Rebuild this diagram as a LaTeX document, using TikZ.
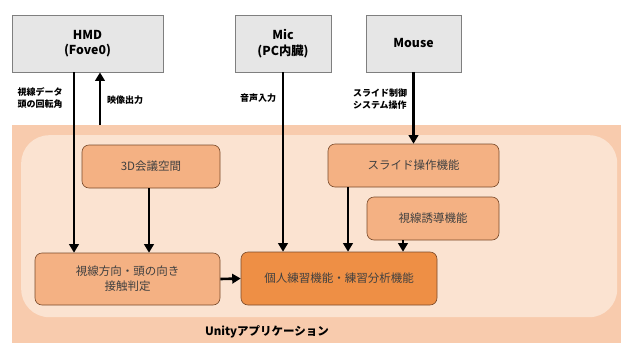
\documentclass[tikz,border=0pt]{standalone}
\usepackage{fontspec}
\setmainfont{Noto Sans CJK JP}
\usetikzlibrary{arrows.meta}
\definecolor{outerc}{HTML}{F8CBAD}
\definecolor{innerc}{HTML}{FBE3D1}
\definecolor{boxc}{HTML}{F4B183}
\definecolor{mainc}{HTML}{EE8F45}
\definecolor{brownc}{HTML}{7A4A2A}
\definecolor{grayc}{HTML}{E6E6E6}
\definecolor{grayb}{HTML}{7F7F7F}
\definecolor{txtc}{HTML}{404040}
\tikzset{
  devbox/.style={draw=grayb, line width=0.8pt, fill=grayc, align=center, font=\fontsize{12.3}{15.5}\selectfont\bfseries, text=black, inner sep=0pt},
  funcbox/.style={draw=brownc, line width=0.6pt, fill=boxc, rounded corners=7pt, align=center, font=\fontsize{11.5}{15}\selectfont, text=txtc, inner sep=0pt},
  lbl/.style={align=left, font=\fontsize{9}{12.5}\selectfont\bfseries, text=black, inner sep=0pt},
  arr/.style={line width=2.6pt, -{Triangle[length=8.5pt,width=9.5pt]}}
}
\begin{document}
\begin{tikzpicture}[x=1pt,y=-1pt]
\useasboundingbox (0,0) rectangle (621,343);
\node[fill=outerc, minimum width=609pt, minimum height=218pt, inner sep=0pt, anchor=north west] (app) at (12,125) {};
\node[fill=innerc, rounded corners=28pt, minimum width=596pt, minimum height=182pt, inner sep=0pt, anchor=north west] (core) at (21,135) {};
\node[font=\fontsize{11.5}{14}\selectfont\bfseries, inner sep=0pt] (unity) at (267,332) {Unityアプリケーション};

\node[devbox, minimum width=151pt, minimum height=57pt] (hmd) at (87.5,43.5) {HMD\\(Fove0)};
\node[devbox, minimum width=96pt, minimum height=57pt] (mic) at (283,43.5) {Mic\\(PC内臓)};
\node[devbox, minimum width=95pt, minimum height=57pt] (mouse) at (413.5,43.5) {Mouse};

\node[funcbox, minimum width=138pt, minimum height=43pt] (space) at (151,166.5) {3D会議空間};
\node[funcbox, minimum width=171pt, minimum height=43pt] (slide) at (413.5,165.5) {スライド操作機能};
\node[funcbox, minimum width=132pt, minimum height=43pt] (guide) at (433,218.5) {視線誘導機能};
\node[funcbox, minimum width=185pt, minimum height=52pt] (gaze) at (127.5,279) {視線方向・頭の向き\\接触判定};
\node[funcbox, fill=mainc, minimum width=196pt, minimum height=53pt] (main) at (339,278.5) {個人練習機能・練習分析機能};

\node[lbl] (l1) at (40,98) {視線データ\\頭の回転角};
\node[lbl] (l2) at (125,100) {映像出力};
\node[lbl] (l3) at (258,98) {音声入力};
\node[lbl] (l4) at (380,99) {スライド制御\\システム操作};

\draw[arr] (74,0 |- hmd.south) -- (74,0 |- gaze.north);
\draw[arr] (100,0 |- app.north) -- (100,0 |- hmd.south);
\draw[arr] (mic.south) -- (mic.south |- main.north);
\draw[arr] (mouse.south) -- (mouse.south |- slide.north);
\draw[arr] (149,0 |- space.south) -- (149,0 |- gaze.north);
\draw[arr] (348,0 |- slide.south) -- (348,0 |- main.north);
\draw[arr] (403,0 |- guide.south) -- (403,0 |- main.north);
\draw[arr] (gaze.east) -- (main.west);
\end{tikzpicture}
\end{document}
